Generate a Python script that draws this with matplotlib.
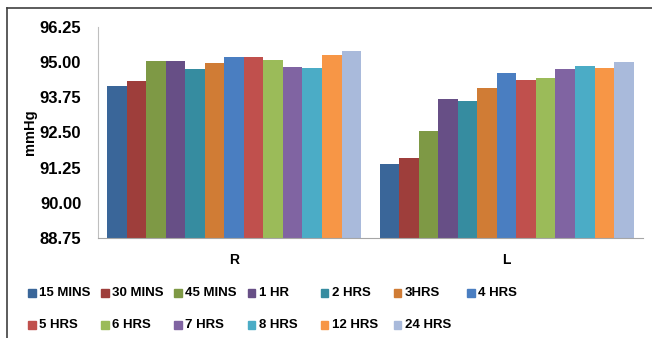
import numpy as np
import matplotlib.pyplot as plt
from matplotlib.lines import Line2D
from matplotlib.patches import Rectangle

plt.rcParams['font.family'] = ['Liberation Sans', 'DejaVu Sans']
plt.rcParams['font.weight'] = 'bold'

groups = ['R', 'L']
series = ['15 MINS', '30 MINS', '45 MINS', '1 HR', '2 HRS', '3HRS', '4 HRS',
          '5 HRS', '6 HRS', '7 HRS', '8 HRS', '12 HRS', '24 HRS']
r_vals = [94.14, 94.31, 95.02, 95.02, 94.74, 94.96, 95.18,
          95.16, 95.06, 94.82, 94.78, 95.26, 95.38]
l_vals = [91.39, 91.60, 92.53, 93.70, 93.62, 94.06, 94.62,
          94.35, 94.42, 94.74, 94.86, 94.78, 94.99]
colors = ['#3A6699', '#9E3E3B', '#7E9945', '#674F86', '#368CA0', '#D07C35', '#4A7EC1',
          '#C0504D', '#9BBB59', '#8064A2', '#4BACC6', '#F79646', '#A9BADB']
yticks = [88.75, 90.00, 91.25, 92.50, 93.75, 95.00, 96.25]

W, H = 652, 338
fig = plt.figure(figsize=(W / 100, H / 100), dpi=100)
ax = fig.add_axes([0.150, 0.296, 0.836, 0.625])

n = len(series)
bw = 0.932 / n
x = np.arange(len(groups))
for i, name in enumerate(series):
    vals = [r_vals[i], l_vals[i]]
    ax.bar(x - 0.466 + bw * (i + 0.5), np.array(vals) - yticks[0], bw,
           bottom=yticks[0], color=colors[i], linewidth=0, label=name)

ax.set_xlim(-0.5, 1.5)
ax.set_ylim(yticks[0], yticks[-1])
ax.set_yticks(yticks)
ax.set_yticklabels(['%.2f' % t for t in yticks], fontsize=12, fontweight='bold')
ax.set_xticks(x)
ax.set_xticklabels(groups, fontsize=10, fontweight='bold')
ax.tick_params(axis='y', length=0, pad=12)
ax.tick_params(axis='x', length=0, pad=11)
ax.set_ylabel('mmHg', fontsize=10.5, fontweight='bold', labelpad=2)
for s in ['top', 'right']:
    ax.spines[s].set_visible(False)
ax.spines['left'].set_color('#BFBFBF')
ax.spines['bottom'].set_color('#A6A6A6')

# legend laid out in fixed-width cells, 7 per row
cell_w, sq = 73.2, 7.5
for i, name in enumerate(series):
    row, col = divmod(i, 7)
    px = 28 + col * cell_w
    py = H - (293 if row == 0 else 325)
    fig.add_artist(Rectangle((px / W, (py - sq / 2) / H), sq / W, sq / H,
                             color=colors[i], transform=fig.transFigure))
    fig.text((px + sq + 3.5) / W, py / H, name, fontsize=9.5, fontweight='bold',
             va='center', ha='left')

# outer frame lines on left and top
fig.add_artist(Line2D([0.011, 0.011], [0, 0.976], color='#404040', lw=1.2))
fig.add_artist(Line2D([0.011, 1.0], [0.976, 0.976], color='#404040', lw=1.2))

fig.savefig('out.png', dpi=100)
